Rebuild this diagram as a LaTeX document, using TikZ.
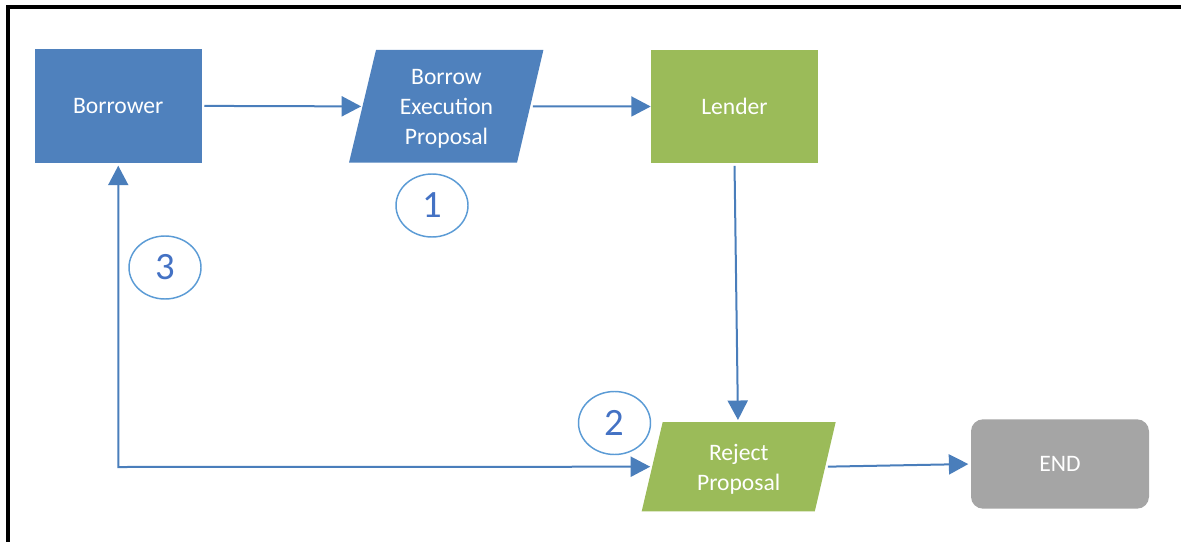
\documentclass[tikz,border=0pt]{standalone}
\usepackage{fontspec}
\setmainfont{Carlito}
\usetikzlibrary{arrows.meta,shapes.geometric}

\definecolor{boxblue}{HTML}{4F81BD}
\definecolor{boxgreen}{HTML}{9BBB59}
\definecolor{boxgray}{HTML}{A5A5A5}
\definecolor{linkblue}{HTML}{4A7EBB}
\definecolor{ringblue}{HTML}{5B9BD5}
\definecolor{digitblue}{HTML}{4472C4}

\tikzset{
  label text/.style={text=white, align=center,
    font=\fontsize{17.7pt}{22.5pt}\selectfont},
  procbox/.style={label text, rectangle, inner sep=0pt},
  endbox/.style={label text, rectangle, rounded corners=9pt, fill=boxgray,
    minimum width=133.5pt, minimum height=67pt, inner sep=0pt},
  slantfill/.style={fill=#1},
  link/.style={draw=linkblue, line width=1.5pt,
    -{Triangle[length=14.6pt,width=15pt]}},
  twolink/.style={draw=linkblue, line width=1.5pt,
    {Triangle[length=14.6pt,width=15pt]}-{Triangle[length=14.6pt,width=15pt]}},
  stepmark/.style={ellipse, draw=ringblue, line width=1.1pt,
    minimum width=54pt, minimum height=47.25pt, inner sep=0pt,
    text=digitblue, font=\fontsize{29pt}{30pt}\selectfont},
  frameline/.style={draw=black, line width=3pt}
}

\begin{document}
\begin{tikzpicture}[x=0.75pt, y=-0.75pt]
  \useasboundingbox (0,0) rectangle (1181,542);

  % outer frame (top and left edges)
  \draw[frameline] (7.5,542) -- (7.5,7) -- (1181,7);

  % parallelogram backgrounds
  \fill[slantfill=boxblue] (349,162.7) -- (517,162.7) -- (543.4,50) -- (376,50) -- cycle;
  \fill[slantfill=boxgreen] (641.7,511.3) -- (814.8,511.3) -- (835.7,422) -- (662.7,422) -- cycle;

  % process boxes
  \node[procbox, fill=boxblue, minimum width=125.6pt, minimum height=85.3pt]
    (borrower) at (118.25,105.9) {Borrower};
  \node[procbox] (proposal) at (446.5,109.2) {Borrow\\Execution\\Proposal};
  \node[procbox, fill=boxgreen, minimum width=125.25pt, minimum height=84.75pt]
    (lender) at (734.5,106.5) {Lender};
  \node[procbox] (reject) at (738.7,469.5) {Reject\\Proposal};
  \node[endbox] (finish) at (1060,464) {END};

  % edge points of the slanted shapes
  \coordinate (propIn)  at (362.5,106.4);
  \coordinate (propOut) at (530.5,106.4);
  \coordinate (rejTop)  at (738,422);
  \coordinate (rejIn)   at (652.2,466.7);
  \coordinate (rejOut)  at (825.3,466.7);
  \coordinate (loopCorner) at (118.25,467);

  % connectors
  \draw[link, shorten <=1.5pt, shorten >=1pt] (borrower.east) -- (propIn);
  \draw[link, shorten <=1.8pt] (propOut) -- (lender.west);
  \draw[link, shorten <=2pt, shorten >=1.5pt] (lender.south) -- (rejTop);
  \draw[link, shorten <=2pt, shorten >=1.8pt] (rejOut) -- (finish.west);
  \draw[twolink, shorten <=2pt, shorten >=1.5pt, line join=miter]
    (borrower.south) -- (loopCorner) -- (rejIn);

  % step markers
  \node[stepmark] (stepA) at (432,205.5) {1};
  \node[stepmark] (stepB) at (614.5,423) {2};
  \node[stepmark] (stepC) at (165,267.5) {3};
\end{tikzpicture}
\end{document}
